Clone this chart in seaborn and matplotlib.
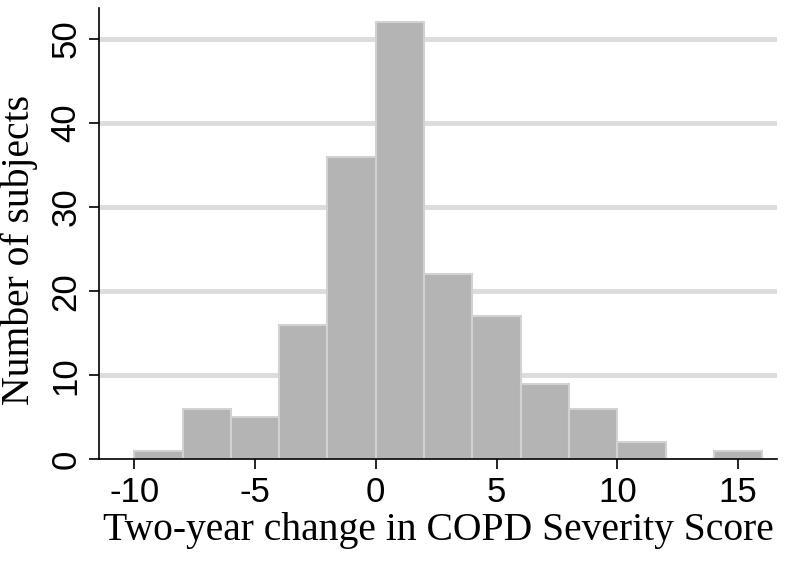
import numpy as np
import matplotlib
matplotlib.use("Agg")
import matplotlib.pyplot as plt
import seaborn as sb

# bins of width 2, counts
bin_edges = [-10, -8, -6, -4, -2, 0, 2, 4, 6, 8, 10, 12, 14, 16]
counts = [1, 6, 5, 16, 36, 52, 22, 17, 9, 6, 2, 0, 1]
x_ticks = [-10, -5, 0, 5, 10, 15]
y_ticks = [0, 10, 20, 30, 40, 50]

centers = [(a + b) / 2 for a, b in zip(bin_edges[:-1], bin_edges[1:])]

sb.set_style("white")
plt.rcParams['font.family'] = ['Liberation Sans', 'DejaVu Sans']
plt.rcParams['axes.unicode_minus'] = False

fig = plt.figure(figsize=(8, 5.69), dpi=100)
ax = fig.add_axes([0.124, 0.193, 0.847, 0.793])

for y in y_ticks[1:]:
    ax.axhline(y, color='#dcdcdc', lw=3.5, zorder=0)

sb.histplot(x=centers, weights=counts, bins=bin_edges, ax=ax,
            color='#b4b4b4', edgecolor='#d2d2d2', linewidth=1.5, alpha=1, zorder=2)

ax.set_xlim(-11.45, 16.6)
ax.set_ylim(0, 53.7)
ax.set_xticks(x_ticks)
ax.set_yticks(y_ticks)
ax.tick_params(axis='both', direction='out', length=7, width=1.2, labelsize=25,
               bottom=True, left=True, color='black', labelcolor='black', pad=5)
for lab in ax.get_yticklabels():
    lab.set_rotation(90)
    lab.set_va('center')

for s in ['top', 'right']:
    ax.spines[s].set_visible(False)
for s in ['left', 'bottom']:
    ax.spines[s].set_color('black')
    ax.spines[s].set_linewidth(1.2)

ax.set_xlabel('Two-year change in COPD Severity Score', family='Liberation Serif',
              fontsize=28.5, labelpad=2, color='black')
ax.set_ylabel('Number of subjects', family='Liberation Serif', fontsize=28.5,
              color='black')
ax.yaxis.set_label_coords(-0.091, 0.463)

fig.savefig('out.png', dpi=100)
